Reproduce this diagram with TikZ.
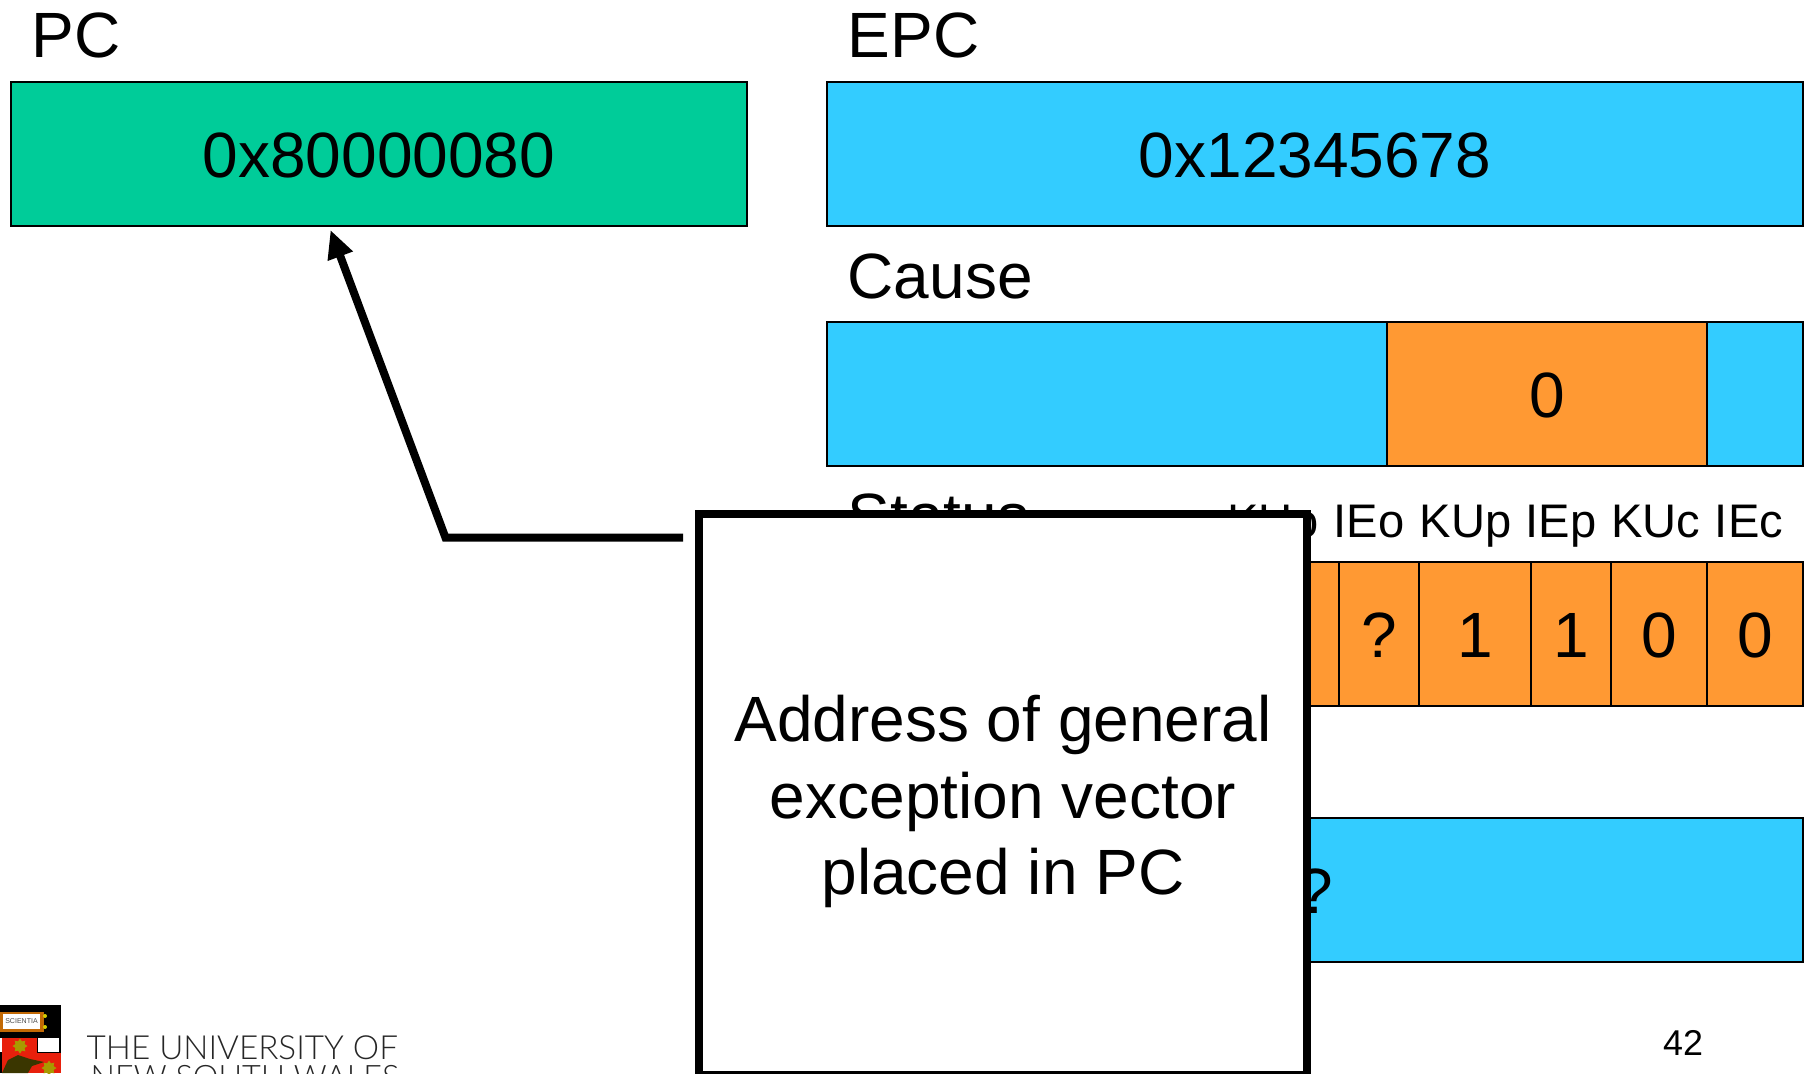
\documentclass[tikz,border=0pt]{standalone}
\usepackage{fontspec}
\setmainfont{Liberation Sans}
\newfontfamily\logofont{Lato Light}
\usetikzlibrary{positioning}
\usetikzlibrary{arrows.meta}
\usetikzlibrary{shapes.geometric}
\definecolor{regGreen}{HTML}{00CC99}
\definecolor{regBlue}{HTML}{33CCFF}
\definecolor{regOrange}{HTML}{FF9933}
\definecolor{crestRed}{HTML}{E8200C}
\definecolor{crestGold}{HTML}{A89A00}
\definecolor{crestDark}{HTML}{3A3600}
\tikzset{
    regbox/.style={draw,line width=0.02cm,inner sep=0pt,minimum height=1.43cm,text height=0.47cm,text depth=0pt,font=\fontsize{18.2}{22}\selectfont},
    reglabel/.style={anchor=base west,inner sep=0pt,font=\fontsize{18.2}{22}\selectfont},
    bitlabel/.style={anchor=base,inner sep=0pt,font=\fontsize{13.4}{16}\selectfont},
    bitcell/.style={regbox,fill=regOrange},
    logotext/.style={anchor=base west,inner sep=0pt,text=black!85,font=\logofont\fontsize{9.45}{11}\selectfont},
    creststar/.style={star,star points=8,fill=crestGold,inner sep=0pt,minimum size=0.15cm}
}
\begin{document}
\begin{tikzpicture}[x=0.01cm,y=-0.01cm]
                \useasboundingbox (0,0) rectangle (1813,1073);
                \clip (0,0) rectangle (1813,1073);
                % registers
                \node[reglabel] (PCLabel) at (31,58) {PC};
                \node[regbox,fill=regGreen,minimum width=7.36cm] (PC) at (379,154) {0x80000080};
                \node[reglabel] (EPCLabel) at (847,58) {EPC};
                \node[regbox,fill=regBlue,minimum width=9.76cm] (EPC) at (1315,154) {0x12345678};
                \node[reglabel] (CauseLabel) at (847,298) {Cause};
                \node[regbox,fill=regBlue,minimum width=9.76cm] (Cause) at (1315,394) {};
                \node[bitcell,minimum width=3.2cm] (CauseCode) at (1547,394) {0};
                \node[reglabel] (StatusLabel) at (847,538) {Status};
                % status bits
                \node[bitcell,minimum width=4.13cm] (BitRest) at (1033.5,634) {};
                \node[bitcell,minimum width=0.99cm] (BitKUo) at (1289.5,634) {};
                \node[bitcell,minimum width=0.8cm] (BitIEo) at (1379,634) {?};
                \node[bitcell,minimum width=1.12cm] (BitKUp) at (1475,634) {1};
                \node[bitcell,minimum width=0.8cm] (BitIEp) at (1571,634) {1};
                \node[bitcell,minimum width=0.96cm] (BitKUc) at (1659,634) {0};
                \node[bitcell,minimum width=0.96cm] (BitIEc) at (1755,634) {0};
                \node[bitlabel] (KUoLabel) at (1273,537.5) {KUo};
                \node[bitlabel] (IEoLabel) at (1369,537.5) {IEo};
                \node[bitlabel] (KUpLabel) at (1465.5,537.5) {KUp};
                \node[bitlabel] (IEpLabel) at (1561,537.5) {IEp};
                \node[bitlabel] (KUcLabel) at (1656,537.5) {KUc};
                \node[bitlabel] (IEcLabel) at (1749,537.5) {IEc};
                \node[regbox,fill=regBlue,minimum width=9.76cm] (BadVAddr) at (1315,890) {?};
                % callout over the status registers
                \node[draw,fill=white,line width=0.08cm,inner sep=0pt,
                    minimum width=6.08cm,minimum height=5.61cm] (Callout) at (1003,794.5) {};
                \node[align=center,inner sep=0pt,font=\fontsize{18.2}{21.8}\selectfont]
                    (CalloutText) at ([yshift=-0.07cm]Callout.center)
                    {Address of general\\exception vector\\placed in PC};
                \coordinate (PCTip) at (330.5,230);
                \coordinate (CalloutEnd) at (683,537.7);
                \draw[line width=0.08cm,-{Triangle[length=0.28cm,width=0.25cm]}] (CalloutEnd) -- (445.5,537.7) -- (PCTip);
                % footer
                \node[anchor=base,inner sep=0pt,font=\fontsize{10.2}{12}\selectfont] (PageNum) at (1683,1055) {42};
                \node[logotext] (LogoText) at (86,1059) {THE UNIVERSITY OF};
                \node[logotext,font=\logofont\fontsize{9.2}{11}\selectfont] (LogoTextB) at (90,1088) {NEW SOUTH WALES};
                % crest
                \fill[black] (0,1005) rectangle (61,1073);
                \fill[crestGold!60!crestRed] (0,1012) rectangle (44,1032);
                \fill[white] (3,1014) rectangle (40,1029);
                \node[inner sep=0pt,text=black!70,font=\fontsize{2}{2}\selectfont] (CrestBook) at (21.5,1021) {SCIENTIA};
                \fill[crestGold!50!yellow] (45,1016) circle (2);
                \fill[crestGold!50!yellow] (45,1027) circle (2);
                \fill[white] (0,1038) rectangle (2,1052);
                \fill[crestRed] (2,1038) rectangle (37,1073);
                \fill[white] (38,1038) rectangle (59,1052);
                \fill[crestRed] (37,1053) rectangle (61,1073);
                \node[creststar] (CrestStarA) at (20,1046) {};
                \node[creststar] (CrestStarB) at (49,1068) {};
                \fill[crestDark] (2,1073) -- (8,1060) -- (18,1055) -- (30,1059) -- (44,1062) -- (32,1066) -- (28,1073) -- cycle;
            \end{tikzpicture}
\end{document}
